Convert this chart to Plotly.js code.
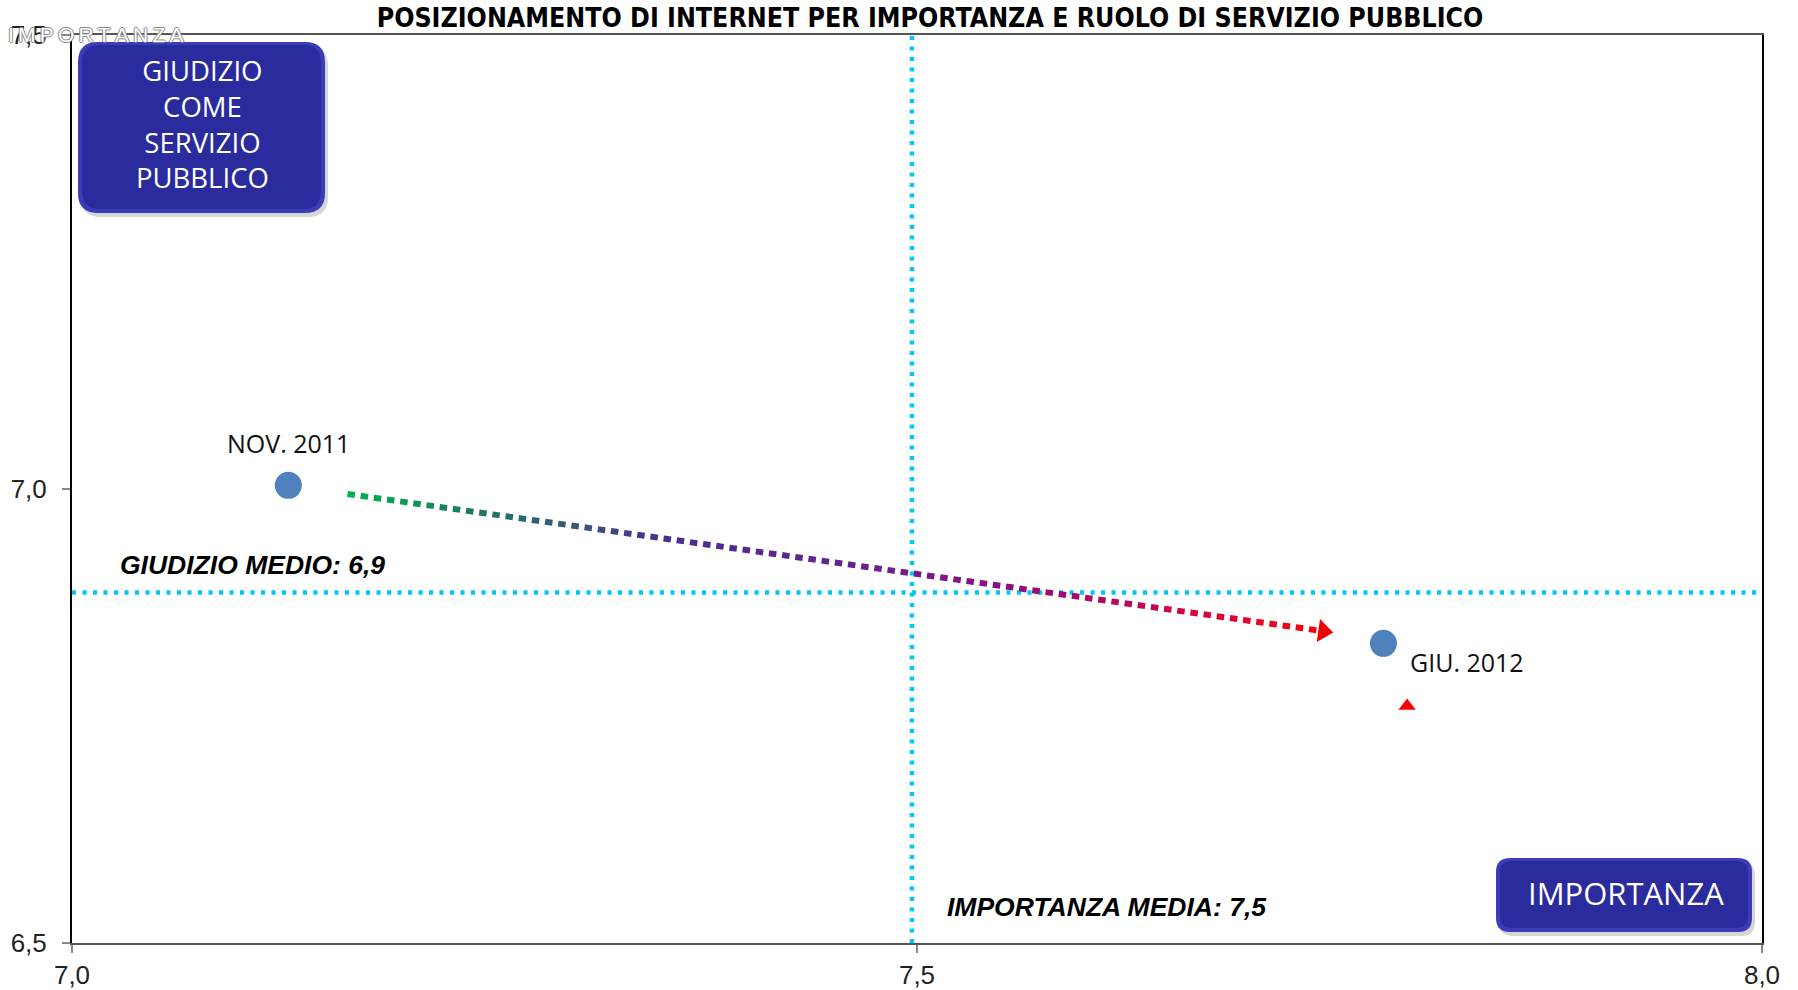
<!DOCTYPE html>
<html>
<head>
<meta charset="utf-8">
<script src="https://cdn.plot.ly/plotly-3.0.1.min.js"></script>
<style>html,body{margin:0;padding:0;background:#fff;}#chart{width:1798px;height:990px;}</style>
</head>
<body>
<div id="chart"></div>
<script>
// ---- data ----
const periods = ['NOV. 2011', 'GIU. 2012'];
const importanza = [7.128, 7.776];
const giudizio = [7.004, 6.830];
const mediaImportanza = 7.497;
const mediaGiudizio = 6.886;
const extraMarkerX = [7.790];
const extraMarkerY = [6.761];
const arrowFrom = [7.163, 6.9945];
const arrowTo = [7.746, 6.842];
const xTicks = [7.0, 7.5, 8.0];
const yTicks = [6.5, 7.0, 7.5];
const chartTitle = 'POSIZIONAMENTO DI INTERNET PER IMPORTANZA E RUOLO DI SERVIZIO PUBBLICO';
const boxYLines = ['GIUDIZIO', 'COME', 'SERVIZIO', 'PUBBLICO'];
const boxXText = 'IMPORTANZA';

// ---- layout geometry ----
const W = 1798, H = 990;
const M = {l: 72, r: 36, t: 35, b: 47};
const PW = W - M.l - M.r, PH = H - M.t - M.b;
const xr = [7, 8], yr = [6.5, 7.5];
const toPx = x => M.l + (x - xr[0]) / (xr[1] - xr[0]) * PW;
const toPy = y => M.t + (yr[1] - y) / (yr[1] - yr[0]) * PH;
const fromPx = p => xr[0] + (p - M.l) / PW * (xr[1] - xr[0]);
const fromPy = p => yr[1] - (p - M.t) / PH * (yr[1] - yr[0]);
const paperX = p => (p - M.l) / PW;
const paperY = p => (H - M.b - p) / PH;
const fmt = v => v.toFixed(1).replace('.', ',');

function roundRect(x0, y0, x1, y1, r) {
  const P = (a, b) => paperX(a) + ',' + paperY(b);
  return 'M' + P(x0 + r, y0) + ' L' + P(x1 - r, y0) + ' Q' + P(x1, y0) + ' ' + P(x1, y0 + r) +
    ' L' + P(x1, y1 - r) + ' Q' + P(x1, y1) + ' ' + P(x1 - r, y1) +
    ' L' + P(x0 + r, y1) + ' Q' + P(x0, y1) + ' ' + P(x0, y1 - r) +
    ' L' + P(x0, y0 + r) + ' Q' + P(x0, y0) + ' ' + P(x0 + r, y0) + ' Z';
}

// gradient colour helper for the dotted arrow
const gradStops = [[0, [0, 176, 80]], [0.12, [30, 122, 94]], [0.22, [53, 90, 120]], [0.32, [74, 47, 144]],
  [0.55, [112, 30, 142]], [0.68, [142, 14, 128]], [0.82, [200, 6, 78]], [1, [255, 0, 0]]];
function gradColor(t) {
  for (let i = 1; i < gradStops.length; i++) {
    if (t <= gradStops[i][0]) {
      const a = gradStops[i - 1], b = gradStops[i];
      const f = (t - a[0]) / (b[0] - a[0]);
      const c = a[1].map((v, k) => Math.round(v + (b[1][k] - v) * f));
      return 'rgb(' + c.join(',') + ')';
    }
  }
  return 'rgb(255,0,0)';
}

const shapes = [];
// mean lines
const cyan = '#00C8FA';
shapes.push({type: 'line', xref: 'x', yref: 'paper', x0: mediaImportanza, x1: mediaImportanza, y0: 0, y1: 1,
  line: {color: cyan, width: 4.5, dash: '4px,6.5px'}});
shapes.push({type: 'line', xref: 'paper', yref: 'y', x0: 0, x1: 1, y0: mediaGiudizio, y1: mediaGiudizio,
  line: {color: cyan, width: 4.5, dash: '4px,6.5px'}});

// dotted gradient arrow body (decoration)
const ax0 = toPx(arrowFrom[0]), ay0 = toPy(arrowFrom[1]);
const ax1 = toPx(arrowTo[0]), ay1 = toPy(arrowTo[1]);
const L = Math.hypot(ax1 - ax0, ay1 - ay0);
const ux = (ax1 - ax0) / L, uy = (ay1 - ay0) / L;
const headLen = 19, dashLen = 7.5, period = 13.3;
const bodyLen = L - headLen + 3;
for (let s = 0; s + dashLen <= bodyLen; s += period) {
  const e = s + dashLen;
  shapes.push({type: 'line', xref: 'x', yref: 'y',
    x0: fromPx(ax0 + ux * s), y0: fromPy(ay0 + uy * s),
    x1: fromPx(ax0 + ux * e), y1: fromPy(ay0 + uy * e),
    line: {color: gradColor(s / L), width: 6}});
}

// boxes (decoration)
function box(x0, y0, x1, y1, r) {
  shapes.push({type: 'path', xref: 'paper', yref: 'paper', path: roundRect(x0 + 3, y0 + 4, x1 + 3, y1 + 4, r),
    fillcolor: 'rgba(0,0,0,0.16)', line: {width: 0}});
  shapes.push({type: 'path', xref: 'paper', yref: 'paper', path: roundRect(x0, y0, x1, y1, r),
    fillcolor: '#3A3DB8', line: {width: 0}});
  shapes.push({type: 'path', xref: 'paper', yref: 'paper', path: roundRect(x0 + 4, y0 + 3, x1 - 4, y1 - 4, r - 2),
    fillcolor: '#2A2B9C', line: {width: 0}});
}
box(78, 42, 325, 213, 20);
box(1496, 858, 1752, 932, 14);

const labelFont = {family: 'Open Sans, Noto Sans, sans-serif', size: 25, color: '#111'};
const annotations = [
  {xref: 'x', yref: 'y', x: importanza[0], y: giudizio[0], yshift: 42, xanchor: 'center', yanchor: 'middle',
    text: periods[0], showarrow: false, font: labelFont},
  {xref: 'x', yref: 'y', x: importanza[1], y: giudizio[1], xshift: 25, yshift: -19, xanchor: 'left', yanchor: 'middle',
    text: periods[1], showarrow: false, font: labelFont},
  {xref: 'paper', yref: 'y', x: paperX(118), y: mediaGiudizio, yshift: 28, xanchor: 'left', yanchor: 'middle',
    text: '<b><i>GIUDIZIO MEDIO: ' + fmt(mediaGiudizio) + '</i></b>', showarrow: false,
    font: {family: 'Liberation Sans, Arial, sans-serif', size: 26.5, color: '#000'}},
  {xref: 'x', yref: 'paper', x: mediaImportanza, xshift: 33, y: paperY(907), xanchor: 'left', yanchor: 'middle',
    text: '<b><i>IMPORTANZA MEDIA: ' + fmt(mediaImportanza) + '</i></b>', showarrow: false,
    font: {family: 'Liberation Sans, Arial, sans-serif', size: 26.5, color: '#000'}},
  {xref: 'paper', yref: 'paper', x: paperX(202), y: paperY(124), xanchor: 'center', yanchor: 'middle',
    text: boxYLines.join('<br>'), showarrow: false, align: 'center',
    font: {family: 'Open Sans, Noto Sans, sans-serif', size: 27.5, color: '#fff'}},
  {xref: 'paper', yref: 'paper', x: paperX(1626), y: paperY(893), xanchor: 'center', yanchor: 'middle',
    text: boxXText, showarrow: false,
    font: {family: 'Open Sans, Noto Sans, sans-serif', size: 31, color: '#fff'}},
  {xref: 'paper', yref: 'paper', x: paperX(96), y: paperY(34), xanchor: 'center', yanchor: 'middle',
    text: boxXText.split('').join('\u2009'), showarrow: false,
    font: {family: 'Liberation Sans, Arial, sans-serif', size: 21, color: '#fff',
      shadow: '1px 0 0 #888, -1px 0 0 #888, 0 1px 0 #888, 0 -1px 0 #888'}}
];

// arrow head placement
const headAngle = Math.atan2(ay1 - ay0, ax1 - ax0) * 180 / Math.PI;
const headCx = ax1 - ux * headLen / 2, headCy = ay1 - uy * headLen / 2;

const traces = [
  {type: 'scatter', mode: 'markers', x: importanza, y: giudizio, text: periods, hoverinfo: 'text',
    marker: {size: 27, color: '#4F81BD'}, showlegend: false},
  {type: 'scatter', mode: 'markers', x: extraMarkerX, y: extraMarkerY, hoverinfo: 'skip',
    marker: {size: 15, color: '#FF0000', symbol: 'triangle-up'}, showlegend: false},
  {type: 'scatter', mode: 'markers', x: [fromPx(headCx)], y: [fromPy(headCy)], hoverinfo: 'skip',
    marker: {size: 20, color: '#F00000', symbol: 'triangle-right', angle: headAngle}, showlegend: false}
];

const axisCommon = {
  showgrid: false, zeroline: false, showline: true, mirror: true, linewidth: 2,
  ticks: 'outside', ticklen: 8, tickwidth: 1.5, tickcolor: '#888', tickformat: '.1f',
  tickfont: {family: 'Liberation Sans, Arial, sans-serif', size: 26, color: '#222'}
};

const layout = {
  width: W, height: H, margin: M, separators: ',.',
  paper_bgcolor: '#fff', plot_bgcolor: '#fff', showlegend: false,
  title: {text: '<b>' + chartTitle + '</b>', xref: 'container', yref: 'container', x: 930 / W, y: 1 - 18 / H,
    xanchor: 'center', yanchor: 'middle',
    font: {family: 'DejaVu Sans Condensed, Liberation Sans Narrow, sans-serif', size: 26.5, color: '#000'}},
  xaxis: Object.assign({}, axisCommon, {range: xr, tickvals: xTicks, linecolor: '#555', ticklabelstandoff: 0}),
  yaxis: Object.assign({}, axisCommon, {range: yr, tickvals: yTicks, linecolor: '#000', ticklabelstandoff: 10}),
  shapes: shapes, annotations: annotations
};

Plotly.newPlot('chart', traces, layout, {displayModeBar: false, staticPlot: true});
</script>
</body>
</html>
